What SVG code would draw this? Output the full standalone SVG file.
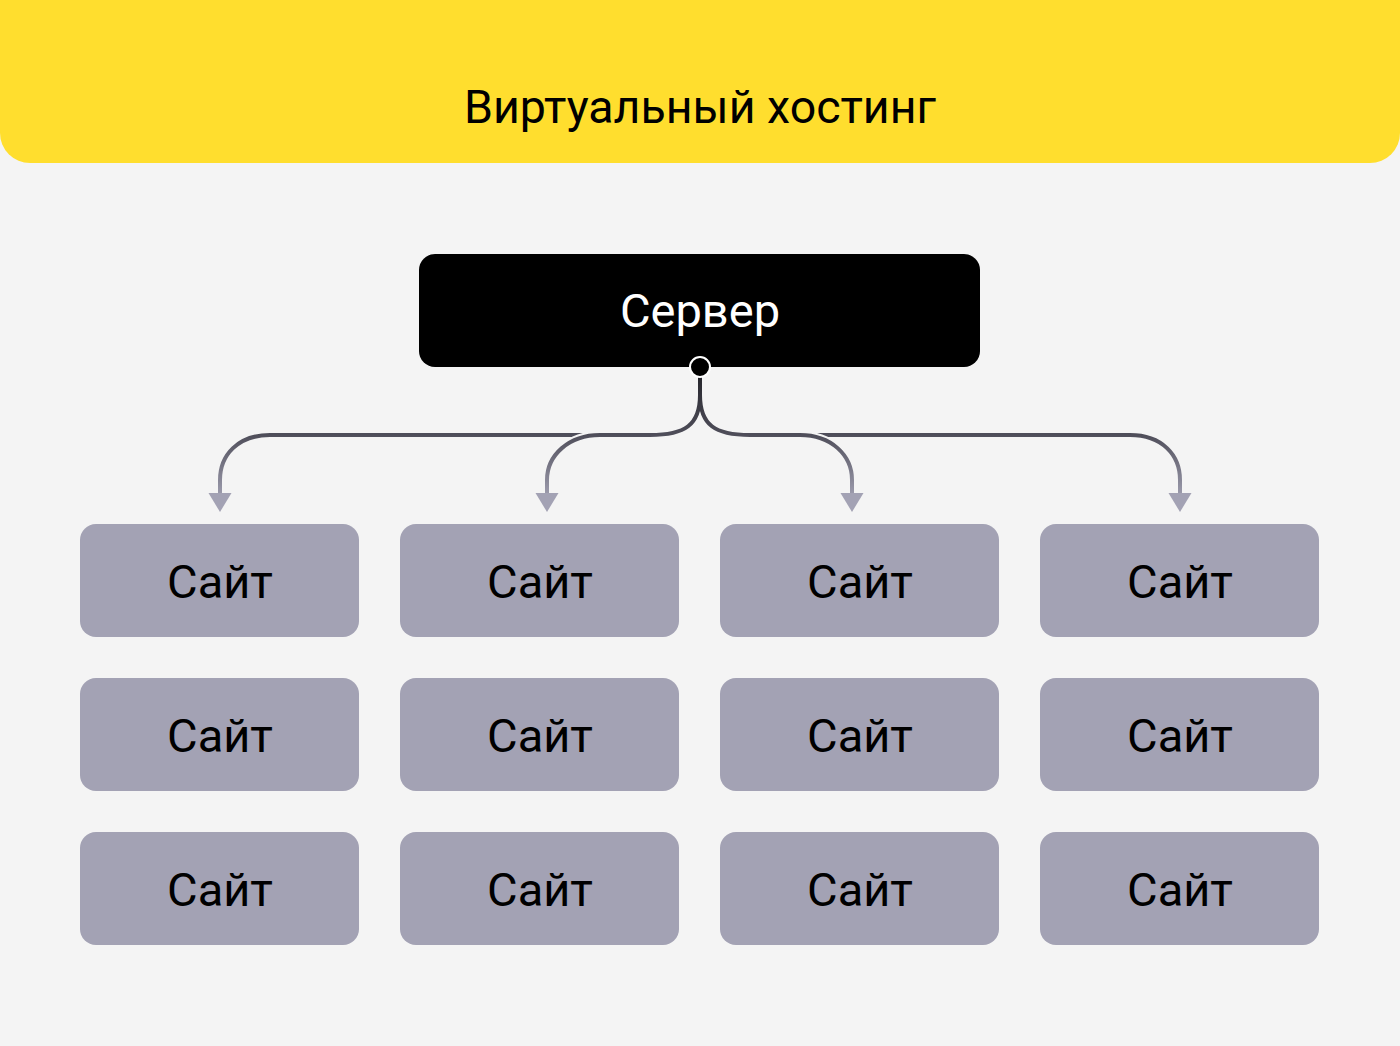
<svg xmlns="http://www.w3.org/2000/svg" width="1400" height="1046" viewBox="0 0 1400 1046">
<style>
.site rect{fill:#a3a2b4}
.lbl{font-family:Roboto,"Liberation Sans",sans-serif;font-size:47px;text-anchor:middle;fill:#000}
.conn{fill:none;stroke:url(#g);stroke-width:4}
.halo{fill:none;stroke:#f4f4f4;stroke-width:8}
</style>
<defs>
<linearGradient id="g" gradientUnits="userSpaceOnUse" x1="0" y1="370" x2="0" y2="500">
<stop offset="0" stop-color="#222228"/>
<stop offset="0.5" stop-color="#4f4e5a"/>
<stop offset="1" stop-color="#a3a2b4"/>
</linearGradient>
<marker id="arr" markerUnits="userSpaceOnUse" markerWidth="20" markerHeight="24" refX="0" refY="0" orient="auto" overflow="visible">
<path d="M0,-11.5 L19,0 L0,11.5 Z" fill="#a3a2b4"/>
</marker>
</defs>
<rect width="1400" height="1046" fill="#f4f4f4"/>
<g id="header">
<path d="M0,0 H1400 V133 A30,30 0 0 1 1370,163 H30 A30,30 0 0 1 0,133 Z" fill="#ffde2e"/>
<text x="700" y="123" class="lbl" style="font-size:46.5px">Виртуальный хостинг</text>
</g>
<g id="connectors">
<path class="conn" d="M700,372 V395 C700,425 685,435 650,435 H270 C238,435 220,455 220,480 V493" marker-end="url(#arr)"/>
<path class="conn" d="M700,372 V395 C700,425 715,435 750,435 H1130 C1162,435 1180,455 1180,480 V493" marker-end="url(#arr)"/>
<path class="halo" d="M700,382 V395 C700,425 685,435 650,435 H600 C569,435 547,455 547,480 V490"/>
<path class="halo" d="M700,382 V395 C700,425 715,435 750,435 H800 C831,435 852,455 852,480 V490"/>
<path class="conn" d="M700,372 V395 C700,425 685,435 650,435 H600 C569,435 547,455 547,480 V493" marker-end="url(#arr)"/>
<path class="conn" d="M700,372 V395 C700,425 715,435 750,435 H800 C831,435 852,455 852,480 V493" marker-end="url(#arr)"/>
</g>
<g id="server">
<rect x="419" y="254" width="561" height="113" rx="16" fill="#000"/>
<text x="700" y="327" class="lbl" style="fill:#fff">Сервер</text>
<circle cx="700" cy="367" r="10" fill="#000" stroke="#fff" stroke-width="2"/>
</g>
<g id="site-1-1" class="site"><rect x="80" y="524" width="279" height="113" rx="16"/><text x="220" y="598" class="lbl">Сайт</text></g>
<g id="site-1-2" class="site"><rect x="400" y="524" width="279" height="113" rx="16"/><text x="540" y="598" class="lbl">Сайт</text></g>
<g id="site-1-3" class="site"><rect x="720" y="524" width="279" height="113" rx="16"/><text x="860" y="598" class="lbl">Сайт</text></g>
<g id="site-1-4" class="site"><rect x="1040" y="524" width="279" height="113" rx="16"/><text x="1180" y="598" class="lbl">Сайт</text></g>
<g id="site-2-1" class="site"><rect x="80" y="678" width="279" height="113" rx="16"/><text x="220" y="752" class="lbl">Сайт</text></g>
<g id="site-2-2" class="site"><rect x="400" y="678" width="279" height="113" rx="16"/><text x="540" y="752" class="lbl">Сайт</text></g>
<g id="site-2-3" class="site"><rect x="720" y="678" width="279" height="113" rx="16"/><text x="860" y="752" class="lbl">Сайт</text></g>
<g id="site-2-4" class="site"><rect x="1040" y="678" width="279" height="113" rx="16"/><text x="1180" y="752" class="lbl">Сайт</text></g>
<g id="site-3-1" class="site"><rect x="80" y="832" width="279" height="113" rx="16"/><text x="220" y="906" class="lbl">Сайт</text></g>
<g id="site-3-2" class="site"><rect x="400" y="832" width="279" height="113" rx="16"/><text x="540" y="906" class="lbl">Сайт</text></g>
<g id="site-3-3" class="site"><rect x="720" y="832" width="279" height="113" rx="16"/><text x="860" y="906" class="lbl">Сайт</text></g>
<g id="site-3-4" class="site"><rect x="1040" y="832" width="279" height="113" rx="16"/><text x="1180" y="906" class="lbl">Сайт</text></g>
</svg>
